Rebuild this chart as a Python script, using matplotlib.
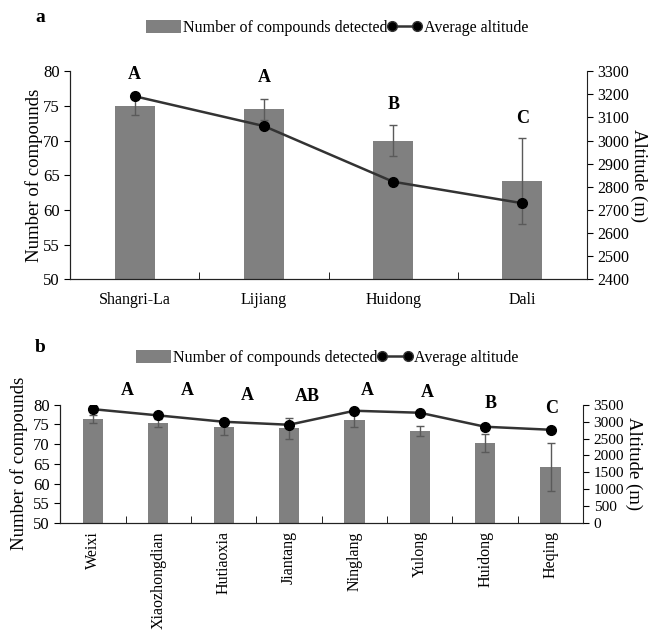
import numpy as np
import matplotlib
matplotlib.use("Agg")
import matplotlib.pyplot as plt
from matplotlib.lines import Line2D
from matplotlib.patches import Patch

plt.rcParams["font.family"] = ["Liberation Serif", "DejaVu Serif"]

# panel a: regions
sites_a = ["Shangri-La", "Lijiang", "Huidong", "Dali"]
compounds_a = [75.0, 74.5, 70.0, 64.2]
err_a = [1.3, 1.5, 2.2, 6.2]
altitude_a = [3192, 3063, 2822, 2729]
letters_a = ["A", "A", "B", "C"]
letter_y_a = [79.6, 79.1, 75.2, 73.2]

# panel b: populations
sites_b = ["Weixi", "Xiaozhongdian", "Hutiaoxia", "Jiantang",
           "Ninglang", "Yulong", "Huidong", "Heqing"]
compounds_b = [76.4, 75.4, 74.4, 74.0, 76.1, 73.4, 70.2, 64.2]
err_b = [0.9, 1.1, 2.0, 2.6, 1.8, 1.3, 2.3, 6.1]
altitude_b = [3370, 3185, 2997, 2908, 3323, 3264, 2849, 2760]
letters_b = ["A", "A", "A", "AB", "A", "A", "B", "C"]
letter_x_off_b = [0.52, 0.44, 0.36, 0.28, 0.20, 0.11, 0.09, 0.01]
letter_y_b = [83.6, 83.6, 82.3, 82.2, 83.6, 83.2, 80.4, 79.0]

BAR = "#808080"
LINE = "#333333"


def draw_panel(fig, rect, sites, vals, errs, alt, alt_lim, alt_step,
               fs_alt, rotate, ylabelpad):
    ax = fig.add_axes(rect)
    x = np.arange(len(sites))
    ax.bar(x, [v - 50 for v in vals], bottom=50, width=0.31, color=BAR,
           yerr=errs, ecolor="#5a5a5a", error_kw=dict(elinewidth=1, capsize=3,
                                                     capthick=1))
    ax.set_ylim(50, 80)
    ax.set_yticks(range(50, 81, 5))
    ax.set_xlim(-0.5, len(sites) - 0.5)
    ax.set_xticks(x)
    ax.set_xticklabels(sites, rotation=90 if rotate else 0, fontsize=11.5)
    ax.set_xticks(np.arange(0.5, len(sites) - 0.5), minor=True)
    ax.tick_params(axis="x", which="major", length=0,
                   pad=6 if rotate else 9)
    ax.tick_params(axis="x", which="minor", direction="in", length=5)
    ax.tick_params(axis="y", labelsize=12, length=4, direction="out")
    ax.set_ylabel("Number of compounds", fontsize=13.5, labelpad=ylabelpad)
    ax.spines["top"].set_visible(False)
    ax.spines["right"].set_visible(False)

    ax2 = ax.twinx()
    ax2.plot(x, alt, color=LINE, lw=1.8, marker="o", ms=7,
             markerfacecolor="black", markeredgecolor="black")
    ax2.set_ylim(*alt_lim)
    ax2.set_yticks(range(alt_lim[0], alt_lim[1] + 1, alt_step))
    ax2.tick_params(axis="y", labelsize=fs_alt, length=4, direction="out")
    ax2.set_ylabel("Altitude (m)", fontsize=13.5, rotation=-90, labelpad=13)
    ax2.spines["top"].set_visible(False)
    for s in ["left", "bottom", "right"]:
        ax.spines[s].set_color("#222222")
        ax2.spines[s].set_color("#222222")
    return ax, ax2


def add_legend(fig, xc, y):
    handles = [Patch(facecolor=BAR, edgecolor="none"),
               Line2D([], [], color=LINE, lw=1.8, marker="o", ms=7,
                      markerfacecolor="black")]
    fig.legend(handles, ["Number of compounds detected", "Average altitude"],
               loc="center", bbox_to_anchor=(xc, y), ncol=2, frameon=False,
               fontsize=11.5, numpoints=2, handlelength=2.2, handletextpad=0.1,
               columnspacing=0.0, handleheight=0.9)


fig = plt.figure(figsize=(6.48, 6.42), dpi=100)

# panel a
ax_a, ax_a2 = draw_panel(fig, [0.108, 0.565, 0.798, 0.324], sites_a,
                         compounds_a, err_a, altitude_a, (2400, 3300), 100,
                         11.5, False, 0)
for i, (t, ty) in enumerate(zip(letters_a, letter_y_a)):
    ax_a.text(i, ty, t, ha="center", va="center", fontsize=13,
              fontweight="bold")
add_legend(fig, 0.52, 0.957)
fig.text(0.062, 0.972, "a", fontsize=14, fontweight="bold",
         ha="center", va="center")

# panel b
ax_b, ax_b2 = draw_panel(fig, [0.093, 0.1855, 0.807, 0.184], sites_b,
                         compounds_b, err_b, altitude_b, (0, 3500), 500,
                         11, True, 4)
for i, (t, ty) in enumerate(zip(letters_b, letter_y_b)):
    ax_b.text(i + letter_x_off_b[i], ty, t, ha="center", va="center",
              fontsize=13, fontweight="bold", clip_on=False)
add_legend(fig, 0.505, 0.443)
fig.text(0.062, 0.458, "b", fontsize=14, fontweight="bold",
         ha="center", va="center")

fig.savefig("out.png", dpi=100)
